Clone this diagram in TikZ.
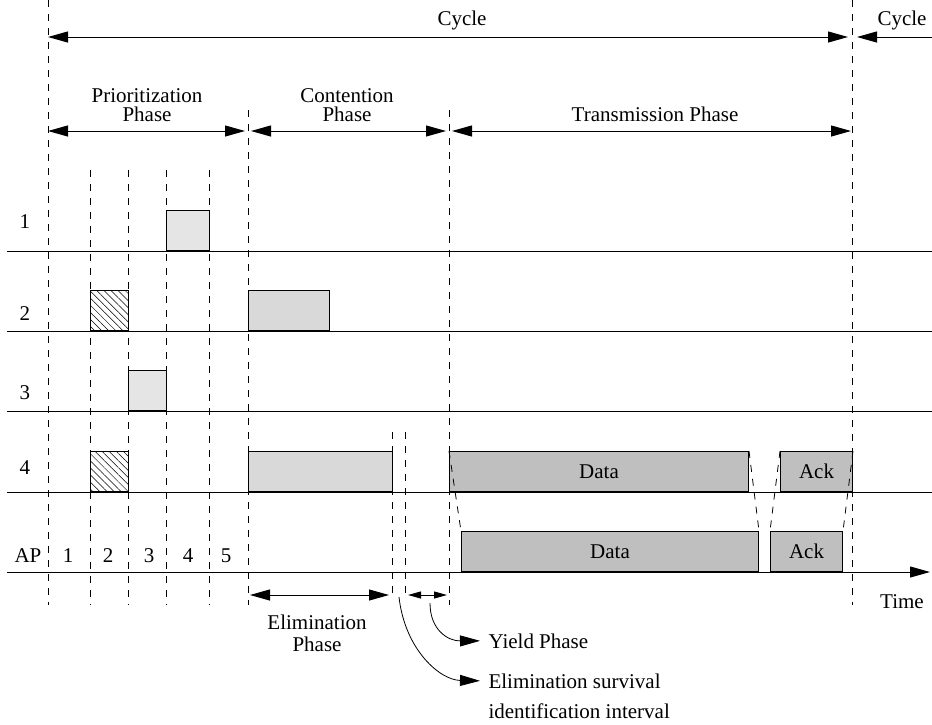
\documentclass[tikz,border=0pt]{standalone}
\usepackage{fontspec}
\setmainfont{Liberation Serif}
\usetikzlibrary{arrows.meta,patterns.meta}
\colorlet{hell}{gray!20}
\colorlet{mittel}{gray!30}
\colorlet{dunkel}{gray!50}
\begin{document}
\begin{tikzpicture}[x=1pt,y=-1pt,line width=1pt,
  every node/.style={font=\fontsize{21}{25}\selectfont,inner sep=0pt},
  raster/.style={line width=.8pt,dash pattern=on 7pt off 7pt},
  kasten/.style={draw,anchor=south west,minimum height=40pt,inner sep=0pt},
  schraeg/.style={pattern={Lines[angle=-45,distance=5pt,line width=.5pt]}},
  spitze/.style={-{Triangle[length=20pt,width=11pt]}},
  pfeil/.style={{Triangle[length=20pt,width=11pt]}-{Triangle[length=20pt,width=11pt]}},
  kpfeil/.style={{Triangle[length=13pt,width=7pt]}-{Triangle[length=13pt,width=7pt]}}]
\useasboundingbox (0,0) rectangle (932,724);
%Zeitraster
\foreach \n/\x/\ya/\yb in {t0/48/0/605,s1/90/170/605,s2/128/170/605,s3/166/170/605,s4/209/170/605,
  t1/248/110/605,e1/392/432/600,e2/405/432/600,t2/449/110/605,t3/852/0/605}
  \draw[raster] (\x,\ya) coordinate (\n) -- (\x,\yb) coordinate (\n u);
%Zyklus
\coordinate (c0) at (48,37);
\coordinate (c1) at (848,37);
\coordinate (c2) at (857,37);
\coordinate (c3) at (932,37);
\draw[pfeil] (c0) -- (c1);
\draw[spitze] (c3) -- (c2);
\node[anchor=base] (cyc) at (462,25) {Cycle};
\node[anchor=base] (cyc2) at (902,25) {Cycle};
%Phasen
\coordinate (p0) at (48,131);
\coordinate (p1) at (245,131);
\coordinate (p2) at (251,131);
\coordinate (p3) at (446,131);
\coordinate (p4) at (452,131);
\coordinate (p5) at (851,131);
\draw[pfeil] (p0) -- (p1);
\draw[pfeil] (p2) -- (p3);
\draw[pfeil] (p4) -- (p5);
\node[anchor=base] (prio1) at (147,102) {Prioritization};
\node[anchor=base] (prio2) at (147,121) {Phase};
\node[anchor=base] (cont1) at (347,102) {Contention};
\node[anchor=base] (cont2) at (347,121) {Phase};
\node[anchor=base] (trans) at (655,121) {Transmission Phase};
%Stationen
\foreach \n/\y/\yl in {1/251/228,2/331/320,3/411/399,4/492/474}{
  \draw (7,\y) -- (932,\y);
  \node[anchor=base] (l\n) at (25,\yl) {\n};
}
\draw[spitze] (7,572) -- (930,572);
\node[anchor=base] (lap) at (28,562) {AP};
\foreach \k/\x in {1/68,2/108,3/149,4/188,5/226}
  \node[anchor=base] (ap\k) at (\x,562) {\k};
%Kaesten
\node[kasten,fill=hell,minimum width=43pt] (b1) at (166,251) {};
\node[kasten,schraeg,minimum width=38pt] (h2) at (90,331) {};
\node[kasten,fill=mittel,minimum width=81pt] (k2) at (248,331) {};
\node[kasten,fill=hell,minimum width=38pt] (b3) at (128,411) {};
\node[kasten,schraeg,minimum width=38pt] (h4) at (90,492) {};
\node[kasten,fill=mittel,minimum width=144pt] (k4) at (248,492) {};
\node[kasten,fill=dunkel,minimum width=299pt] (d4) at (449,492) {Data};
\node[kasten,fill=dunkel,minimum width=72pt] (a4) at (780,492) {Ack};
\node[kasten,fill=dunkel,minimum width=297pt] (dap) at (461,572) {Data};
\node[kasten,fill=dunkel,minimum width=72pt] (aap) at (770,572) {Ack};
%Laufzeit
\draw[raster] (d4.north west) -- (dap.north west);
\draw[raster] (d4.north east) -- (dap.north east);
\draw[raster] (a4.north west) -- (aap.north west);
\draw[raster] (a4.north east) -- (aap.north east);
%Elimination und Yield
\coordinate (el0) at (250,595);
\coordinate (el1) at (389,595);
\coordinate (y0) at (408,595);
\coordinate (y1) at (447,595);
\draw[pfeil] (el0) -- (el1);
\draw[kpfeil] (y0) -- (y1);
\node[anchor=base] (elim1) at (317,629) {Elimination};
\node[anchor=base] (elim2) at (317,651) {Phase};
\node[anchor=base west] (yield) at (488,648) {Yield Phase};
\node[anchor=base west] (esi) at (488,688) {Elimination survival};
\node[anchor=base west] (esi2) at (488,718) {identification interval};
\coordinate (ya) at (430,603);
\coordinate (ea) at (399,597);
\draw[spitze,line width=.8pt] (ya) .. controls (430,630) and (448,641) .. ([xshift=-8pt]yield.west);
\draw[spitze,line width=.8pt] (ea) .. controls (405,650) and (440,680) .. ([xshift=-8pt]esi.west);
%Zeit
\node[anchor=base] (zeit) at (902,608) {Time};
\end{tikzpicture}
\end{document}
